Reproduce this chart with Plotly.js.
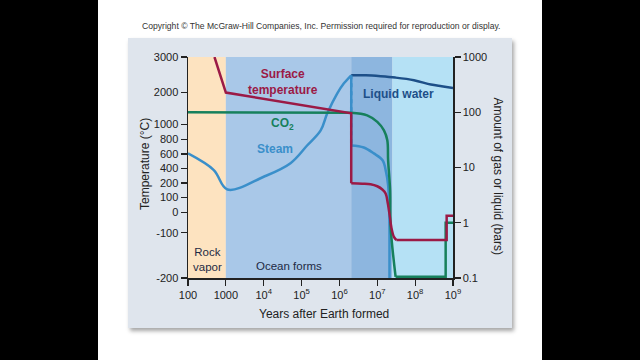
<!DOCTYPE html>
<html><head><meta charset="utf-8">
<script src="https://cdn.plot.ly/plotly-3.0.1.min.js"></script>
<style>
html,body{margin:0;padding:0;background:#000;width:640px;height:360px;overflow:hidden}
#white{position:absolute;left:98px;top:0;width:444px;height:360px;background:#fff}
#panel{position:absolute;left:128px;top:38px;width:384px;height:290px;background:#dfe5ed;box-shadow:2px 3px 4px rgba(0,0,0,0.35)}
#chart{position:absolute;left:0;top:0;width:640px;height:360px}
</style></head><body>
<div id="white"></div><div id="panel"></div><div id="chart"></div>
<script>
// ---------- data ----------
const xTickVals = [1e2, 1e3, 1e4, 1e5, 1e6, 1e7, 1e8, 1e9];
const xTickText = ['100', '1000', '10<sup>4</sup>', '10<sup>5</sup>', '10<sup>6</sup>', '10<sup>7</sup>', '10<sup>8</sup>', '10<sup>9</sup>'];
const barTickVals = [0.1, 1, 10, 100, 1000];
const barTickText = ['0.1', '1', '10', '100', '1000'];
const tempTickVals = [3000, 2000, 1000, 800, 600, 400, 200, 100, 0, -100, -200];

const eraBounds = [100, 1000, 2.05e6, 2.5e7, 1e9];
const eraLabels = ['Rock<br>vapor', 'Ocean forms'];

const tempYears = [500, 1000, 2.05e6, 2.05e6, 4e6, 6.65e6, 1e7, 1.36e7, 1.66e7, 1.9e7, 2.15e7, 2.34e7, 2.75e7, 3.2e7, 6.8e8, 6.8e8, 1e9];
const tempC     = [3000, 2000, 1350, 198, 195, 191, 177, 155, 127, 59, -23, -71, -109, -116, -116, -18, -18];

const co2Years = [100, 2.05e6, 5.4e6, 1e7, 1.5e7, 1.84e7, 1.93e7, 2.18e7, 2.25e7, 3.05e7, 6.4e8, 6.4e8, 1e9];
const co2Bars  = [100, 98, 88, 67, 47, 31, 13.6, 3.9, 0.84, 0.105, 0.105, 1.0, 1.0];

const steamYears = [100, 480, 1100, 1e4, 5.1e4, 1.4e5, 3.2e5, 4.75e5, 8.7e5, 1.3e6, 2.05e6, 2.05e6, 4.4e6, 8.1e6, 1.38e7, 1.71e7, 1.93e7, 2.05e7, 2.1e7, 2.1e7];
const steamBars  = [18, 9, 4, 6.8, 12, 25, 47, 95, 218, 330, 467, 25, 23, 18, 13.5, 8.2, 4.8, 2.1, 0.73, 0.08];

const waterYears = [2.05e6, 5e6, 1.22e7, 3e7, 9.3e7, 2.6e8, 5e8, 1e9];
const waterBars  = [467, 465, 448, 424, 380, 317, 295, 275];

// ---------- scale for the (non-uniform) temperature axis ----------
const tempAxisPos = [3.0, 2.356, 1.778, 1.512, 1.246, 0.987, 0.721, 0.458, 0.192, -0.183, -1.0];
function tempToPos(t) {
  const v = tempTickVals, p = tempAxisPos;
  if (t >= v[0]) return p[0] + (t - v[0]) * (p[0] - p[1]) / (v[0] - v[1]);
  for (let i = 0; i < v.length - 1; i++) {
    if (t <= v[i] && t >= v[i + 1]) return p[i] + (t - v[i]) * (p[i + 1] - p[i]) / (v[i + 1] - v[i]);
  }
  return p[p.length - 1];
}

// ---------- styles ----------
const FONT = 'Liberation Sans, Arial, sans-serif';
const INK = '#222222';
const eraColors = ['#fde3c0', '#a9c8e8', '#8db6df', '#b5e1f5'];
const C_TEMP = '#9b1a46', C_CO2 = '#16805c', C_STEAM = '#3a8fca', C_WATER = '#1d4f88';

// split a series into pieces (index ranges) so curved parts can be smoothed
function pieces(xs, ys, cuts, shapes, color, axis, name, text, dash) {
  const out = [];
  for (let k = 0; k < cuts.length - 1; k++) {
    const a = cuts[k], b = cuts[k + 1];
    out.push({x: xs.slice(a, b + 1), y: ys.slice(a, b + 1), text: text ? text.slice(a, b + 1) : undefined,
      type: 'scatter', mode: 'lines', yaxis: axis, name: name,
      line: {color: color, width: 2.5, shape: shapes[k], smoothing: 1, dash: dash || 'solid'}});
  }
  return out;
}

const tempPos = tempC.map(tempToPos);
const traces = [].concat(
  pieces(steamYears, steamBars, [0, 10, 11, steamYears.length - 1], ['spline', 'linear', 'spline'], C_STEAM, 'y', 'Steam'),
  pieces(waterYears, waterBars, [0, waterYears.length - 1], ['spline'], C_WATER, 'y', 'Liquid water'),
  pieces(tempYears, tempPos, [0, 3, 13, tempYears.length - 1], ['linear', 'spline', 'linear'], C_TEMP, 'y2', 'Surface temperature', tempC.map(t => t + ' °C')),
  // the steam drop shares its path with the temperature drop: shown as interleaved dashes
  pieces(steamYears, steamBars, [10, 11], ['linear'], C_STEAM, 'y', 'Steam', null, '4px,4px'),
  pieces(co2Years, co2Bars, [0, 1, 9, co2Years.length - 1], ['linear', 'spline', 'linear'], C_CO2, 'y', 'CO2')
);

const shapes = [];
for (let i = 0; i < eraBounds.length - 1; i++) {
  shapes.push({type: 'rect', xref: 'x', yref: 'paper', x0: eraBounds[i], x1: eraBounds[i + 1], y0: 0, y1: 1,
    fillcolor: eraColors[i], line: {width: 0}, layer: 'below'});
}

const L = 188, R = 453, T = 57, B = 278;
const px = v => (v - L) / (R - L);
const py = v => (B - v) / (B - T);

function ann(text, x, y, color, size, bold, extra) {
  return Object.assign({text: bold ? '<b>' + text + '</b>' : text, x: px(x), y: py(y), xref: 'paper', yref: 'paper',
    showarrow: false, xanchor: 'center', yanchor: 'middle', font: {family: FONT, size: size, color: color}}, extra || {});
}

const annotations = [
  ann('Surface<br>temperature', 283, 81.5, C_TEMP, 12, true),
  ann('CO<sub>2</sub>', 282.5, 124, C_CO2, 12, true),
  ann('Steam', 275, 148.5, C_STEAM, 12, true),
  ann('Liquid water', 398, 93.5, C_WATER, 12, true),
  ann(eraLabels[0], 207.5, 259.5, '#1e2a44', 11.5, false),
  ann(eraLabels[1], 288.5, 266, '#1e2a44', 11.5, false),
  ann('Temperature (°C)', 145, 164, INK, 12, false, {textangle: -90}),
  ann('Amount of gas or liquid (bars)', 497.5, 176, INK, 12, false, {textangle: 90}),
  ann('Years after Earth formed', 324, 313.5, INK, 12, false),
  ann('Copyright © The McGraw-Hill Companies, Inc. Permission required for reproduction or display.', 321.5, 26, '#333333', 8.6, false)
];

const axisStyle = {showline: true, linecolor: INK, linewidth: 1.5, ticks: 'outside', ticklen: 6, tickwidth: 1.2, tickcolor: INK,
  showgrid: false, zeroline: false, fixedrange: true, tickfont: {family: FONT, size: 11, color: INK}};

const layout = Object.assign({
  width: 640, height: 360,
  margin: {l: L, r: 640 - R, t: T, b: 360 - B, pad: 0},
  paper_bgcolor: 'rgba(0,0,0,0)', plot_bgcolor: 'rgba(0,0,0,0)',
  showlegend: false,
  xaxis: Object.assign({}, axisStyle, {type: 'log', range: [2, 9], tickmode: 'array', tickvals: xTickVals, ticktext: xTickText}),
  yaxis: Object.assign({}, axisStyle, {type: 'log', range: [-1, 3], side: 'right', tickmode: 'array', tickvals: barTickVals, ticktext: barTickText}),
  yaxis2: Object.assign({}, axisStyle, {type: 'linear', range: [-1, 3], side: 'left', overlaying: 'y', tickmode: 'array',
    tickvals: tempTickVals.map(tempToPos), ticktext: tempTickVals.map(String)}),
  shapes: shapes,
  annotations: annotations
});

Plotly.newPlot('chart', traces, layout, {displayModeBar: false, staticPlot: true});
</script>
</body></html>
